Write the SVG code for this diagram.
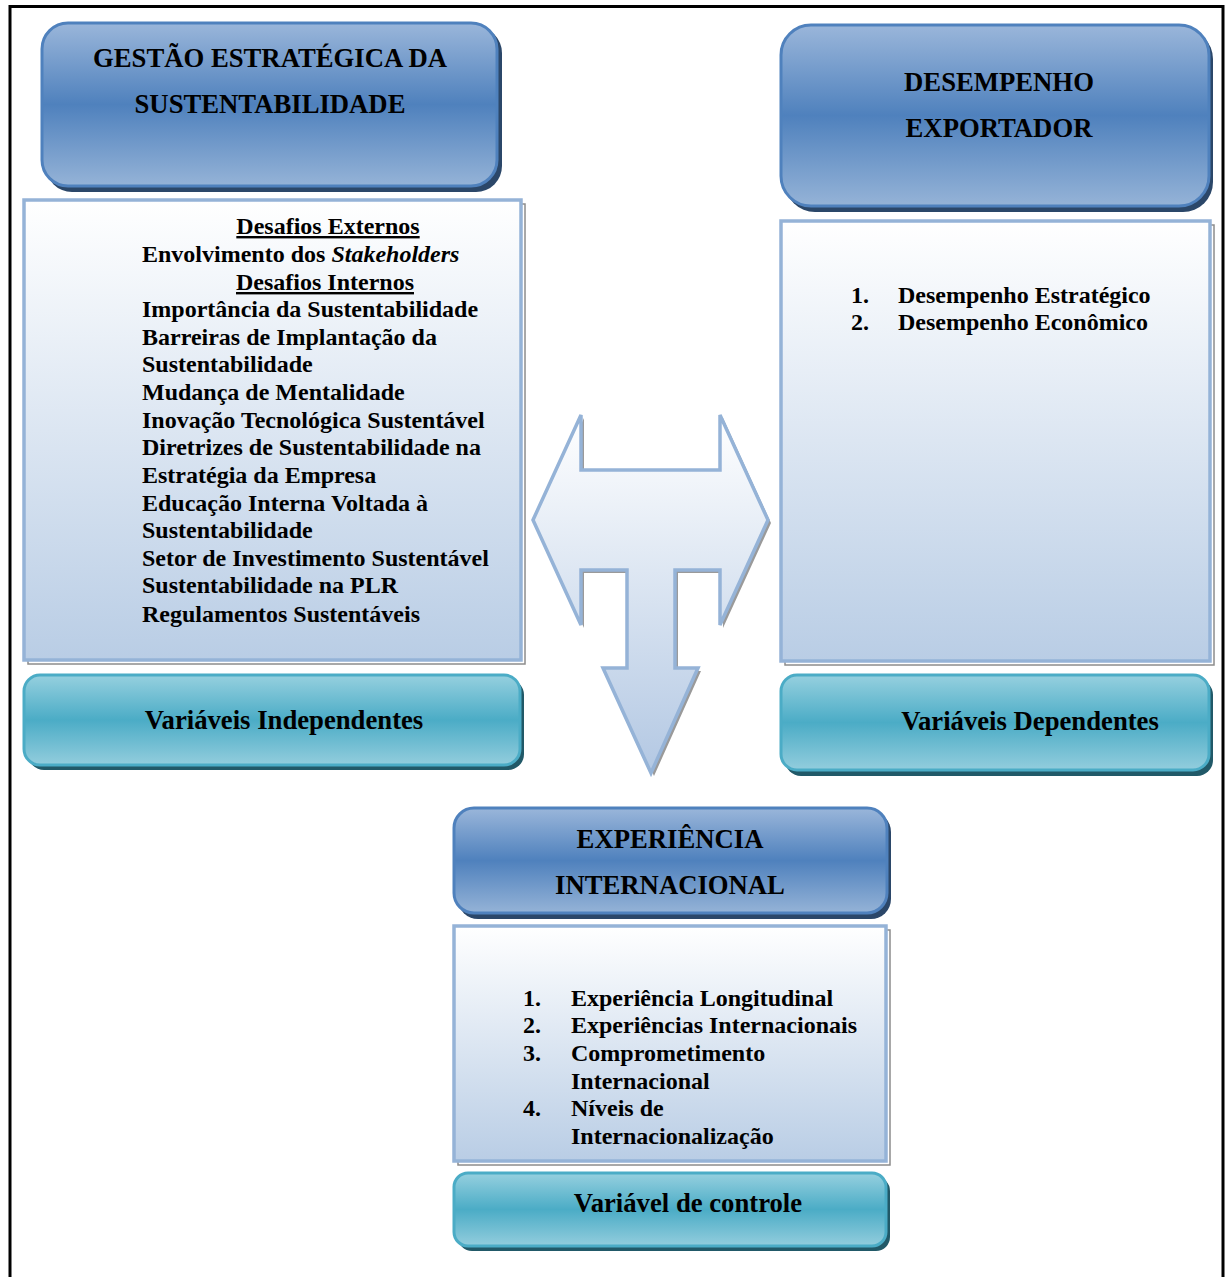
<svg xmlns="http://www.w3.org/2000/svg" width="1227" height="1277" viewBox="0 0 1227 1277">
  <defs>
    <linearGradient id="gHead" x1="0" y1="0" x2="0" y2="1">
      <stop offset="0" stop-color="#9ab6da"/>
      <stop offset="0.5" stop-color="#4f81bd"/>
      <stop offset="1" stop-color="#95b3d7"/>
    </linearGradient>
    <linearGradient id="gLabel" x1="0" y1="0" x2="0" y2="1">
      <stop offset="0" stop-color="#96d0df"/>
      <stop offset="0.5" stop-color="#4bacc6"/>
      <stop offset="1" stop-color="#93cddd"/>
    </linearGradient>
    <linearGradient id="gList" x1="0" y1="0" x2="0" y2="1">
      <stop offset="0" stop-color="#ffffff"/>
      <stop offset="1" stop-color="#b9cde5"/>
    </linearGradient>
    <linearGradient id="gArrow" gradientUnits="userSpaceOnUse" x1="0" y1="415" x2="0" y2="773">
      <stop offset="0" stop-color="#ffffff"/>
      <stop offset="1" stop-color="#b3c8e3"/>
    </linearGradient>
    <style>
      .head { fill: url(#gHead); stroke: #4f81bd; stroke-width: 3; }
      .headShadow { fill: #2b4769; }
      .label { fill: url(#gLabel); stroke: #4bacc6; stroke-width: 3; }
      .labelShadow { fill: #215968; }
      .list { fill: url(#gList); stroke: #95b3d7; stroke-width: 3.5; }
      .listShadow { fill: none; stroke: #8c8c8c; stroke-width: 1.5; }
      text { font-family: "Liberation Serif", "Times New Roman", serif; font-weight: bold; fill: #000; }
      .big { font-size: 26.7px; }
      .body { font-size: 24px; }
      .mid { text-anchor: middle; }
    </style>
  </defs>

  <rect width="1227" height="1277" fill="#ffffff"/>

  <!-- page frame -->
  <g id="frame" fill="none" stroke="#000">
    <path d="M10 1277 V6.5 H1223 V1277" stroke-width="3"/>
  </g>

  <!-- Gestão estratégica da sustentabilidade -->
  <g id="head-gestao">
    <rect class="headShadow" x="46" y="27" width="456" height="165" rx="26"/>
    <rect class="head" x="42" y="23" width="455" height="163" rx="26"/>
    <text class="big mid" x="270" y="67">GESTÃO ESTRATÉGICA DA</text>
    <text class="big mid" x="270" y="113">SUSTENTABILIDADE</text>
  </g>

  <!-- Desempenho exportador -->
  <g id="head-desempenho">
    <rect class="headShadow" x="785" y="29" width="428" height="183" rx="30"/>
    <rect class="head" x="781" y="25" width="428" height="181" rx="30"/>
    <text class="big mid" x="999" y="91">DESEMPENHO</text>
    <text class="big mid" x="999" y="137">EXPORTADOR</text>
  </g>

  <!-- independent variables list -->
  <g id="list-independentes">
    <rect class="listShadow" x="28" y="204" width="497" height="460"/>
    <rect class="list" x="24" y="200" width="497" height="460"/>
    <text class="body mid" x="328" y="234" text-decoration="underline">Desafios Externos</text>
    <text class="body" x="142" y="262">Envolvimento dos <tspan font-style="italic">Stakeholders</tspan></text>
    <text class="body mid" x="325" y="290" text-decoration="underline">Desafios Internos</text>
    <text class="body" x="142" y="317">Importância da Sustentabilidade</text>
    <text class="body" x="142" y="345">Barreiras de Implantação da</text>
    <text class="body" x="142" y="372">Sustentabilidade</text>
    <text class="body" x="142" y="400">Mudança de Mentalidade</text>
    <text class="body" x="142" y="428">Inovação Tecnológica Sustentável</text>
    <text class="body" x="142" y="455">Diretrizes de Sustentabilidade na</text>
    <text class="body" x="142" y="483">Estratégia da Empresa</text>
    <text class="body" x="142" y="511">Educação Interna Voltada à</text>
    <text class="body" x="142" y="538">Sustentabilidade</text>
    <text class="body" x="142" y="566">Setor de Investimento Sustentável</text>
    <text class="body" x="142" y="593">Sustentabilidade na PLR</text>
    <text class="body" x="142" y="622">Regulamentos Sustentáveis</text>
  </g>

  <!-- dependent variables list -->
  <g id="list-dependentes">
    <rect class="listShadow" x="785" y="225" width="429" height="440"/>
    <rect class="list" x="781" y="221" width="429" height="440"/>
    <text class="body" x="851" y="303">1.</text>
    <text class="body" x="898" y="303">Desempenho Estratégico</text>
    <text class="body" x="851" y="330">2.</text>
    <text class="body" x="898" y="330">Desempenho Econômico</text>
  </g>

  <!-- label boxes -->
  <g id="label-independentes">
    <rect class="labelShadow" x="28" y="679" width="496" height="91" rx="16"/>
    <rect class="label" x="24" y="675" width="496" height="90" rx="16"/>
    <text class="big mid" x="284" y="729">Variáveis Independentes</text>
  </g>
  <g id="label-dependentes">
    <rect class="labelShadow" x="785" y="679" width="428" height="97" rx="16"/>
    <rect class="label" x="781" y="675" width="428" height="95" rx="16"/>
    <text class="big mid" x="1030" y="730">Variáveis Dependentes</text>
  </g>

  <!-- connectors: three-way block arrow -->
  <g id="connectors">
    <polygon points="536,523 584,418 584,473 723,473 723,418 771,523 723,628 723,573 678,573 678,671 701,671 654,776 606,671 630,671 630,573 584,573 584,628" fill="#9a9a9a"/>
    <polygon points="533,520 581,415 581,470 720,470 720,415 768,520 720,625 720,570 675,570 675,668 698,668 651,773 603,668 627,668 627,570 581,570 581,625" fill="url(#gArrow)" stroke="#95b3d7" stroke-width="3.5" stroke-linejoin="miter"/>
  </g>

  <!-- Experiência internacional -->
  <g id="head-experiencia">
    <rect class="headShadow" x="458" y="812" width="433" height="107" rx="20"/>
    <rect class="head" x="454" y="808" width="433" height="105" rx="20"/>
    <text class="big mid" x="670" y="848">EXPERIÊNCIA</text>
    <text class="big mid" x="670" y="894">INTERNACIONAL</text>
  </g>

  <g id="list-controle">
    <rect class="listShadow" x="458" y="930" width="432" height="235"/>
    <rect class="list" x="454" y="926" width="432" height="235"/>
    <text class="body" x="523" y="1006">1.</text>
    <text class="body" x="571" y="1006">Experiência Longitudinal</text>
    <text class="body" x="523" y="1033">2.</text>
    <text class="body" x="571" y="1033">Experiências Internacionais</text>
    <text class="body" x="523" y="1061">3.</text>
    <text class="body" x="571" y="1061">Comprometimento</text>
    <text class="body" x="571" y="1089">Internacional</text>
    <text class="body" x="523" y="1116">4.</text>
    <text class="body" x="571" y="1116">Níveis de</text>
    <text class="body" x="571" y="1144">Internacionalização</text>
  </g>

  <g id="label-controle">
    <rect class="labelShadow" x="458" y="1177" width="432" height="74" rx="14"/>
    <rect class="label" x="454" y="1173" width="432" height="73" rx="14"/>
    <text class="big mid" x="688" y="1212">Variável de controle</text>
  </g>
</svg>
